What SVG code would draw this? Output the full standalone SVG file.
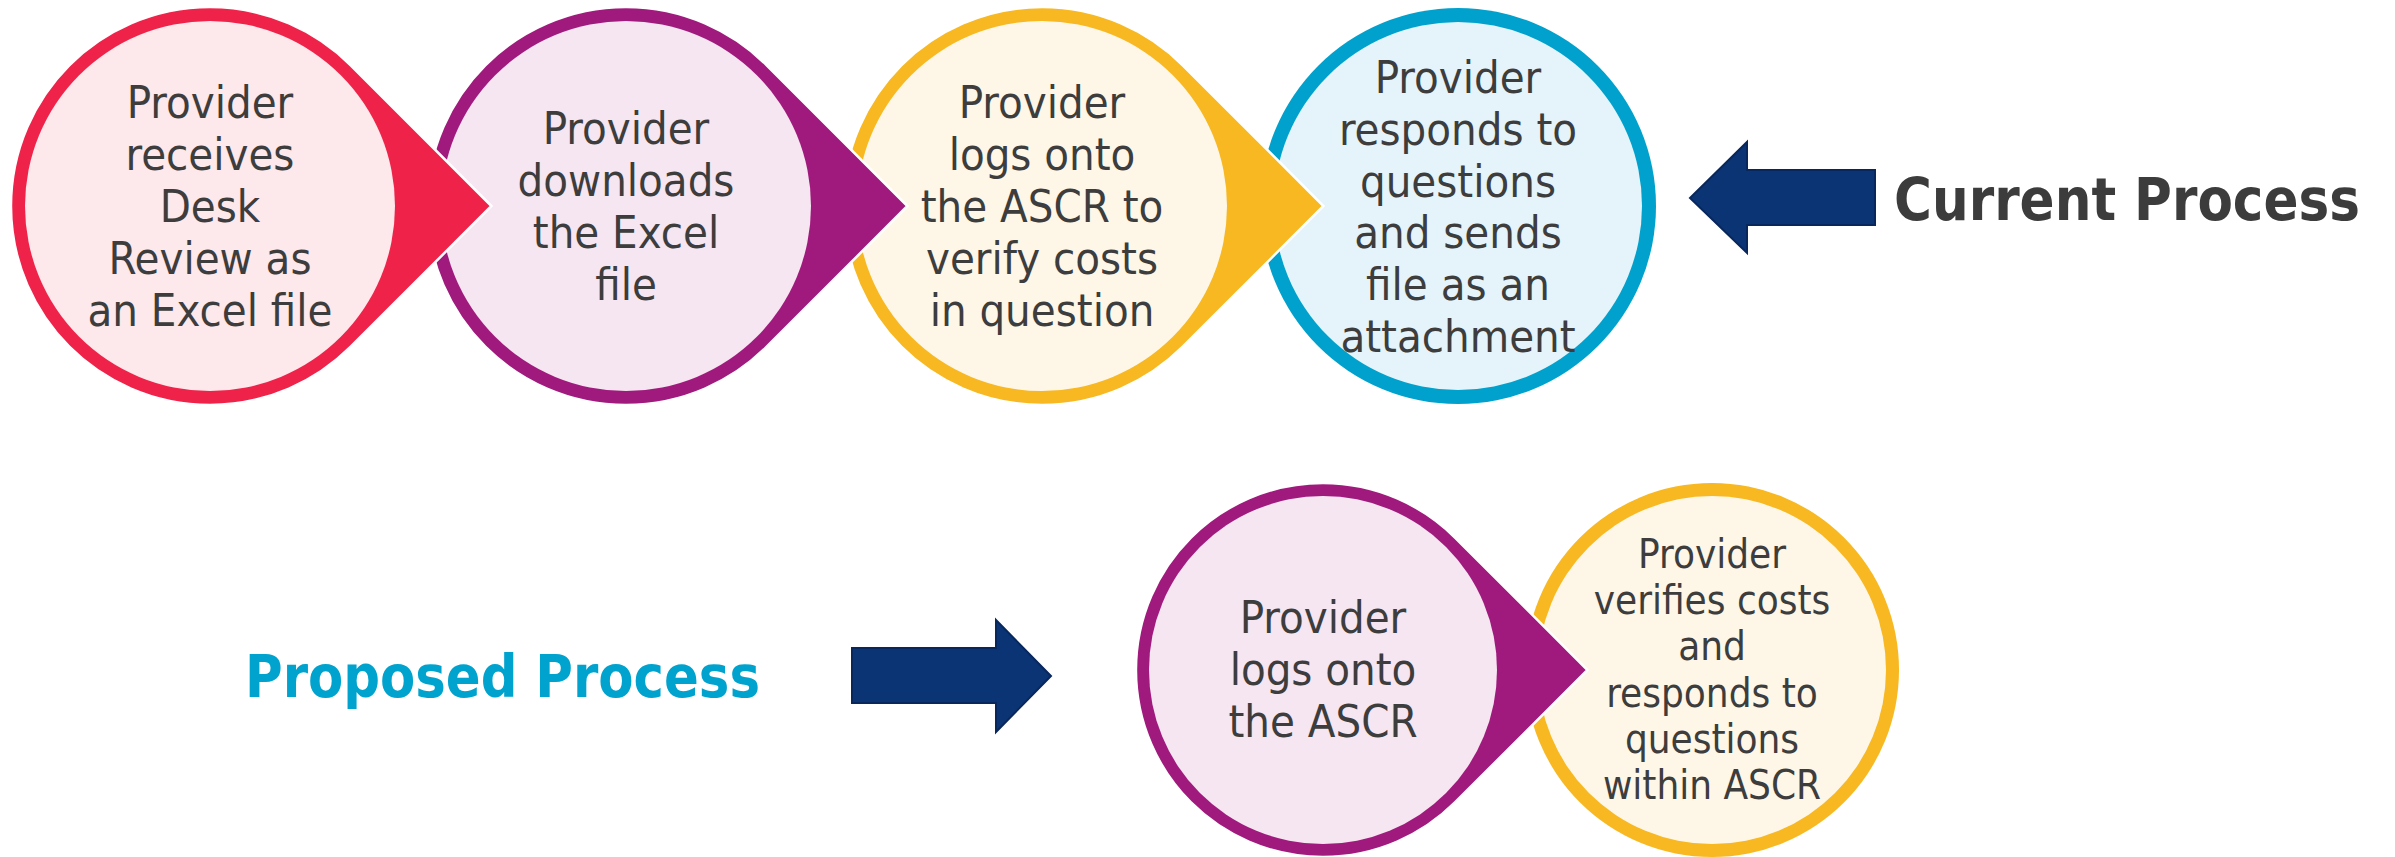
<svg xmlns="http://www.w3.org/2000/svg" width="2395" height="857" viewBox="0 0 2395 857">
<style>
.t{font-family:"DejaVu Sans Condensed","DejaVu Sans",sans-serif;font-stretch:condensed;font-size:45px;fill:#3d3d3d;text-anchor:middle}
.ts{font-size:40px}
.title{font-family:"DejaVu Sans Condensed","DejaVu Sans",sans-serif;font-stretch:condensed;font-weight:bold;font-size:58px}
.drop{stroke:#fff;stroke-width:2.5;stroke-linejoin:miter}
.arrow{fill:#0b3475;stroke:#08275c;stroke-width:2}
</style>
<rect width="2395" height="857" fill="#fff"/>
<g id="connectors">
<path class="arrow" d="M1690,198 L1747,142 L1747,170 L1875,170 L1875,225 L1747,225 L1747,253 Z"/>
<path class="arrow" d="M852,648 L996,648 L996,620 L1051,676 L996,732 L996,703 L852,703 Z"/>
</g>
<g id="step4-current">
<circle cx="1458" cy="206" r="198" fill="#00a1cc"/>
<circle cx="1458" cy="206" r="184" fill="#e4f4fa"/>
<text class="t"><tspan x="1458" y="93">Provider</tspan><tspan x="1458" y="145">responds to</tspan><tspan x="1458" y="197">questions</tspan><tspan x="1458" y="248">and sends</tspan><tspan x="1458" y="300">file as an</tspan><tspan x="1458" y="352">attachment</tspan></text>
</g>
<g id="step3-current">
<path class="drop" fill="#f7b821" d="M1323.4,206 L1182.7,65.3 A199,199 0 1 0 1182.7,346.7 Z"/>
<circle cx="1042" cy="206" r="185" fill="#fef7e8"/>
<text class="t"><tspan x="1042" y="118">Provider</tspan><tspan x="1042" y="170">logs onto</tspan><tspan x="1042" y="222">the ASCR to</tspan><tspan x="1042" y="274">verify costs</tspan><tspan x="1042" y="326">in question</tspan></text>
</g>
<g id="step2-current">
<path class="drop" fill="#a01a7d" d="M907.4,206 L766.7,65.3 A199,199 0 1 0 766.7,346.7 Z"/>
<circle cx="626" cy="206" r="185" fill="#f5e6f2"/>
<text class="t"><tspan x="626" y="144">Provider</tspan><tspan x="626" y="196">downloads</tspan><tspan x="626" y="248">the Excel</tspan><tspan x="626" y="300">file</tspan></text>
</g>
<g id="step1-current">
<path class="drop" fill="#ef2349" d="M491.4,206 L350.7,65.3 A199,199 0 1 0 350.7,346.7 Z"/>
<circle cx="210" cy="206" r="185" fill="#fde8eb"/>
<text class="t"><tspan x="210" y="118">Provider</tspan><tspan x="210" y="170">receives</tspan><tspan x="210" y="222">Desk</tspan><tspan x="210" y="274">Review as</tspan><tspan x="210" y="326">an Excel file</tspan></text>
</g>
<g id="label-current">
<text class="title" x="1894" y="220" fill="#3c3c3c" textLength="466" lengthAdjust="spacingAndGlyphs">Current Process</text>
</g>
<g id="label-proposed">
<text class="title" x="245" y="697" fill="#00a3ce" textLength="515" lengthAdjust="spacingAndGlyphs">Proposed Process</text>
</g>
<g id="step2-proposed">
<circle cx="1712" cy="670" r="187" fill="#f7b821"/>
<circle cx="1712" cy="670" r="174" fill="#fef7e8"/>
<text class="t ts"><tspan x="1712" y="568">Provider</tspan><tspan x="1712" y="614">verifies costs</tspan><tspan x="1712" y="660">and</tspan><tspan x="1712" y="707">responds to</tspan><tspan x="1712" y="753">questions</tspan><tspan x="1712" y="799">within ASCR</tspan></text>
</g>
<g id="step1-proposed">
<path class="drop" fill="#a01a7d" d="M1587.5,670 L1455.2,537.8 A187,187 0 1 0 1455.2,802.2 Z"/>
<circle cx="1323" cy="670" r="174" fill="#f5e6f2"/>
<text class="t"><tspan x="1323" y="633">Provider</tspan><tspan x="1323" y="685">logs onto</tspan><tspan x="1323" y="737">the ASCR</tspan></text>
</g>
</svg>
